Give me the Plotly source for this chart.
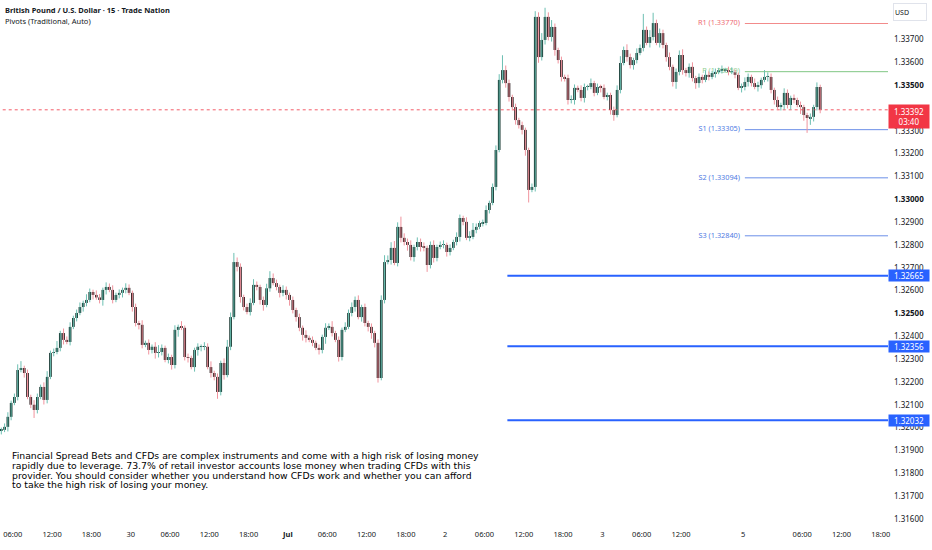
import plotly.graph_objects as go

# ---------------- data ----------------
first_open = 1.31985
close = [
    1.31990, 1.32003, 1.32047, 1.32108, 1.32134, 1.32252, 1.32261, 1.32239, 1.32134, 1.32100,
    1.32077, 1.32134, 1.32178, 1.32121, 1.32222, 1.32327, 1.32331, 1.32349, 1.32414, 1.32384,
    1.32375, 1.32441, 1.32480, 1.32502, 1.32528, 1.32546, 1.32559, 1.32594, 1.32581, 1.32570,
    1.32559, 1.32603, 1.32616, 1.32603, 1.32559, 1.32581, 1.32590, 1.32603, 1.32612, 1.32590,
    1.32528, 1.32458, 1.32450, 1.32362, 1.32371, 1.32340, 1.32354, 1.32327, 1.32331, 1.32349,
    1.32296, 1.32309, 1.32274, 1.32428, 1.32441, 1.32437, 1.32309, 1.32305, 1.32265, 1.32340,
    1.32354, 1.32354, 1.32354, 1.32265, 1.32239, 1.32222, 1.32156, 1.32283, 1.32230, 1.32354,
    1.32484, 1.32725, 1.32704, 1.32572, 1.32528, 1.32506, 1.32546, 1.32625, 1.32616, 1.32559,
    1.32537, 1.32610, 1.32655, 1.32633, 1.32616, 1.32590, 1.32603, 1.32581, 1.32559, 1.32515,
    1.32484, 1.32437, 1.32406, 1.32393, 1.32384, 1.32371, 1.32349, 1.32340, 1.32397, 1.32437,
    1.32441, 1.32414, 1.32384, 1.32309, 1.32428, 1.32441, 1.32502, 1.32528, 1.32559, 1.32484,
    1.32528, 1.32458, 1.32441, 1.32414, 1.32371, 1.32217,
    1.32559, 1.32725, 1.32734, 1.32787, 1.32721, 1.32879, 1.32831, 1.32813, 1.32800, 1.32747,
    1.32791, 1.32813, 1.32791, 1.32787, 1.32712, 1.32800, 1.32743, 1.32791, 1.32800, 1.32800,
    1.32769, 1.32787, 1.32813, 1.32835, 1.32918, 1.32901, 1.32831, 1.32835, 1.32866, 1.32879,
    1.32896, 1.32896, 1.32953, 1.32984, 1.33054, 1.33216, 1.33523, 1.33566, 1.33509, 1.33448,
    1.33404, 1.33347, 1.33325, 1.33304, 1.33216, 1.33041, 1.33054,
    1.33799, 1.33623, 1.33698, 1.33799, 1.33711, 1.33755, 1.33654, 1.33610, 1.33536, 1.33531,
    1.33435, 1.33435, 1.33488, 1.33479, 1.33444, 1.33492, 1.33492, 1.33509, 1.33466, 1.33492,
    1.33488, 1.33448, 1.33457, 1.33391, 1.33369, 1.33479, 1.33597, 1.33654, 1.33623, 1.33588,
    1.33610, 1.33641, 1.33663, 1.33742, 1.33685, 1.33711, 1.33772, 1.33685, 1.33728, 1.33676,
    1.33623, 1.33580, 1.33514, 1.33558, 1.33632, 1.33566, 1.33553, 1.33580, 1.33531, 1.33509,
    1.33536, 1.33523, 1.33545, 1.33536, 1.33553, 1.33558, 1.33566, 1.33566, 1.33566, 1.33558,
    1.33558, 1.33545, 1.33488, 1.33492, 1.33514, 1.33536, 1.33509, 1.33492, 1.33500, 1.33523,
    1.33536, 1.33536, 1.33479, 1.33435, 1.33404, 1.33413, 1.33466, 1.33413, 1.33444, 1.33435,
    1.33413, 1.33404, 1.33369, 1.33356, 1.33361, 1.33404, 1.33492, 1.33392,
]
# wick lengths beyond the body, in pips
wick_hi = [
    1.0, 1.5, 2.0, 1.0, 1.5, 2.5, 3.0, 1.0, 1.5, 1.0,
    2.0, 1.5, 1.0, 2.0, 2.5, 1.0, 1.5, 3.0, 1.0, 2.0,
    1.5, 2.0, 1.0, 1.5, 2.0, 1.0, 2.5, 1.5, 1.0, 2.0,
    1.5, 1.0, 2.0, 1.5, 2.0, 1.0, 1.5, 1.0, 2.0, 1.5,
    1.0, 1.5, 1.0, 2.0, 1.0, 1.5, 1.0, 2.0, 3.0, 1.5,
    1.0, 1.5, 1.0, 2.0, 1.0, 2.5, 1.0, 1.5, 1.0, 1.0,
    1.5, 1.0, 2.0, 1.5, 2.5, 1.0, 1.5, 1.0, 2.0, 3.0,
    2.0, 4.0, 2.0, 1.5, 1.0, 1.5, 2.0, 2.5, 1.5, 1.0,
    1.5, 2.0, 3.0, 2.0, 1.5, 1.0, 2.0, 1.5, 1.0, 1.5,
    1.0, 1.5, 1.0, 2.0, 1.0, 1.5, 1.0, 1.5, 1.0, 2.0,
    1.5, 2.5, 1.0, 1.5, 1.0, 2.0, 1.5, 2.0, 1.5, 2.0,
    1.0, 1.5, 1.0, 1.5, 1.0, 1.5, 2.0, 3.0, 2.0, 2.5,
    3.0, 2.0, 4.5, 2.0, 1.5, 2.0, 1.0, 2.0, 1.5, 2.0,
    1.0, 1.5, 2.0, 1.0, 1.5, 2.0, 1.0, 1.5, 1.0, 2.0,
    1.5, 1.0, 2.0, 2.5, 3.0, 1.5, 1.0, 1.5, 2.0, 1.0,
    1.5, 2.0, 2.5, 6.5, 2.0, 1.5, 1.0, 1.5, 1.0, 1.5,
    1.0, 1.0, 1.5, 2.5, 2.0, 3.0, 4.0, 2.0, 3.0, 1.5,
    1.0, 1.5, 1.0, 1.5, 2.0, 1.5, 1.0, 2.0, 1.5, 1.0,
    2.0, 1.0, 1.5, 1.0, 1.5, 1.0, 1.0, 1.5, 2.0, 3.0,
    1.5, 2.5, 1.5, 1.0, 2.0, 1.5, 7.0, 1.5, 3.0, 4.5,
    1.5, 2.0, 1.5, 1.0, 2.0, 1.0, 1.5, 2.0, 2.5, 1.0,
    1.5, 2.0, 1.0, 1.5, 1.0, 2.0, 1.5, 1.0, 1.5, 1.0,
    2.0, 1.0, 1.5, 2.0, 1.0, 1.0, 1.5, 2.0, 1.5, 1.0,
    2.0, 1.5, 1.0, 3.0, 2.0, 1.5, 1.0, 1.5, 1.0, 2.0,
    1.5, 1.0, 1.5, 1.0, 1.5, 1.0, 1.0, 1.5, 1.0, 2.0,
    1.0,
]
wick_lo = [
    1.5, 1.0, 2.0, 1.5, 1.0, 1.5, 1.0, 2.0, 1.0, 1.5,
    3.5, 1.5, 1.0, 2.0, 1.5, 1.0, 1.5, 1.0, 1.5, 2.0,
    1.0, 1.5, 1.0, 1.5, 1.0, 2.0, 1.5, 1.0, 2.0, 1.0,
    1.5, 2.5, 2.0, 1.0, 1.5, 1.0, 1.5, 2.0, 1.5, 1.0,
    2.0, 1.5, 2.0, 1.5, 1.0, 2.0, 1.5, 2.5, 2.0, 1.5,
    1.0, 1.5, 2.0, 1.5, 3.0, 1.0, 1.5, 2.0, 1.0, 2.0,
    2.5, 2.0, 1.5, 1.0, 2.0, 1.5, 3.0, 1.5, 2.0, 1.0,
    1.5, 1.0, 2.0, 2.5, 1.5, 1.0, 1.5, 1.0, 1.5, 2.0,
    2.5, 1.0, 1.5, 1.0, 1.5, 2.0, 1.5, 2.0, 2.5, 1.5,
    2.0, 1.5, 2.5, 2.0, 1.0, 1.5, 1.0, 2.0, 1.5, 3.0,
    1.0, 1.5, 1.0, 2.0, 1.5, 1.0, 1.0, 1.5, 2.0, 1.0,
    2.0, 1.5, 2.0, 2.5, 2.0, 2.0, 1.0, 1.5, 1.0, 2.0,
    1.0, 1.5, 2.0, 1.5, 2.5, 1.5, 2.0, 1.5, 2.0, 1.5,
    3.0, 1.5, 2.0, 1.5, 1.0, 1.5, 2.0, 1.5, 1.0, 1.5,
    2.0, 1.5, 1.0, 1.5, 1.0, 1.5, 1.0, 1.5, 1.0, 1.5,
    1.0, 1.5, 1.0, 1.5, 2.0, 2.0, 1.5, 2.0, 1.5, 2.0,
    2.5, 5.5, 1.0, 2.0, 2.5, 1.5, 2.0, 1.5, 2.0, 2.5,
    1.5, 2.0, 1.5, 2.0, 1.5, 2.0, 1.0, 1.5, 2.0, 1.5,
    1.0, 1.5, 1.0, 2.0, 1.0, 1.5, 2.0, 2.5, 1.0, 1.5,
    1.0, 2.0, 1.5, 2.0, 1.5, 1.0, 1.5, 1.0, 2.0, 1.5,
    1.0, 2.0, 1.5, 2.0, 1.5, 2.0, 3.0, 1.5, 2.0, 1.5,
    2.0, 1.5, 2.5, 2.0, 1.5, 1.0, 1.5, 1.0, 2.0, 1.0,
    1.5, 1.0, 1.5, 1.0, 1.5, 1.0, 2.0, 1.5, 2.0, 1.5,
    1.0, 2.0, 1.5, 1.0, 2.0, 1.5, 2.0, 1.0, 1.5, 2.0,
    1.5, 2.0, 1.5, 1.0, 3.0, 2.5, 6.5, 3.0, 2.0, 1.5,
    1.5,
]

time_tick_idx = [3.5, 15.5, 27.5, 39.5, 51.5, 63.5, 75.5, 87.5, 99.5, 111.5, 123.5,
                 135.5, 147.5, 159.5, 171.5, 183.5, 195.5, 207.5, 226.5, 244.5, 256.5, 268.5]
time_tick_text = ["06:00", "12:00", "18:00", "30", "06:00", "12:00", "18:00", "<b>Jul</b>",
                  "06:00", "12:00", "18:00", "2", "06:00", "12:00", "18:00", "3",
                  "06:00", "12:00", "5", "06:00", "12:00", "18:00"]

# 1.334 is hidden behind the last-price box in the reference
price_ticks = [1.316, 1.317, 1.318, 1.319, 1.320, 1.321, 1.322, 1.323, 1.324, 1.325, 1.326,
               1.327, 1.328, 1.329, 1.330, 1.331, 1.332, 1.333, 1.335, 1.336, 1.337]
bold_prices = [1.325, 1.330, 1.335]

pivot_names = ["R1", "P", "S1", "S2", "S3"]
pivot_values = [1.33770, 1.33559, 1.33305, 1.33094, 1.32840]
pivot_colors = ["#f28b8b", "#81c784", "#6b8fe8", "#6b8fe8", "#6b8fe8"]
pivot_text_colors = ["#ee6b74", "#8fcf92", "#4f7be3", "#4f7be3", "#4f7be3"]
pivot_start = 227

levels = [1.32665, 1.32356, 1.32032]
levels_start = 154.5

last_price = 1.33392
countdown = "03:40"

title_text = "British Pound / U.S. Dollar · 15 · Trade Nation"
indicator_text = "Pivots (Traditional, Auto)"
disclaimer_lines = [
    "Financial Spread Bets and CFDs are complex instruments and come with a high risk of losing money",
    "rapidly due to leverage. 73.7% of retail investor accounts lose money when trading CFDs with this",
    "provider. You should consider whether you understand how CFDs work and whether you can afford",
    "to take the high risk of losing your money.",
]

# ---------------- build ----------------
pip = 0.0001
n = len(close)
idx = list(range(n))
opens = [first_open] + close[:-1]
highs = [max(o, c) + h * pip for o, c, h in zip(opens, close, wick_hi)]
lows = [min(o, c) - l * pip for o, c, l in zip(opens, close, wick_lo)]
up = [c >= o for o, c in zip(opens, close)]

X0, X1 = -0.4, 270.7
Y0, Y1 = 1.31560, 1.33873

fig = go.Figure()

# pivot lines + labels (behind candles)
for name, val, lc, tc in zip(pivot_names, pivot_values, pivot_colors, pivot_text_colors):
    fig.add_trace(go.Scatter(x=[pivot_start, X1 + 5], y=[val, val], mode="lines",
                             line=dict(color=lc, width=1), hoverinfo="skip"))
    fig.add_trace(go.Scatter(x=[pivot_start - 1.5], y=[val], mode="text",
                             text=[f"{name} ({val:.5f})"], textposition="middle left",
                             textfont=dict(family="Noto Sans", size=7.3, color=tc),
                             hoverinfo="skip"))

# current price dotted line
fig.add_trace(go.Scatter(x=[X0 - 1, X1 + 5], y=[last_price, last_price], mode="lines",
                         line=dict(color="#f23645", width=1, dash="dot"), opacity=0.8,
                         hoverinfo="skip"))

# wicks
for flag, col in [(True, "#6cbfb2"), (False, "#f0939d")]:
    wx, wy = [], []
    for i in idx:
        if up[i] == flag:
            wx += [i, i, None]
            wy += [lows[i], highs[i], None]
    fig.add_trace(go.Scatter(x=wx, y=wy, mode="lines", line=dict(color=col, width=1),
                             hoverinfo="skip"))

# bodies
bases = [min(o, c) for o, c in zip(opens, close)]
heights = [max(abs(c - o), 0.00003) for o, c in zip(opens, close)]
body_colors = ["#0d2e27" if u else "#241316" for u in up]
fig.add_trace(go.Bar(x=idx, y=heights, base=bases, width=0.8,
                     marker=dict(color=body_colors, line=dict(width=0)), hoverinfo="skip"))

# horizontal blue levels
for lv in levels:
    fig.add_trace(go.Scatter(x=[levels_start, X1 + 5], y=[lv, lv], mode="lines",
                             line=dict(color="#2962ff", width=2), hoverinfo="skip"))

ann = []
# title
ann.append(dict(text=f"<b>{title_text}</b>", xref="paper", yref="paper", x=0, y=1,
                xanchor="left", yanchor="top", xshift=3, yshift=-3, showarrow=False,
                font=dict(family="Noto Sans", size=7.5, color="#131722")))
ann.append(dict(text=indicator_text, xref="paper", yref="paper", x=0, y=1,
                xanchor="left", yanchor="top", xshift=3, yshift=-14, showarrow=False,
                font=dict(family="Noto Sans", size=7.5, color="#131722")))
# disclaimer
for k, line in enumerate(disclaimer_lines):
    ann.append(dict(text=line, xref="paper", yref="paper", x=0, y=1,
                    xanchor="left", yanchor="middle", xshift=10, yshift=-(455.5 + 9.8 * k),
                    showarrow=False, align="left",
                    font=dict(family="DejaVu Sans", size=9.3, color="#000000")))
# USD box
ann.append(dict(text="USD", xref="paper", yref="paper", x=1, y=1, xanchor="left",
                yanchor="top", xshift=5, yshift=-3, showarrow=False, width=30, height=14,
                bordercolor="#e0e3eb", borderwidth=1, bgcolor="white", align="left",
                font=dict(family="Noto Sans", size=7, color="#131722")))
# level boxes
for lv in levels:
    ann.append(dict(text=f"{lv:.5f}", xref="paper", yref="y", x=1, y=lv, xanchor="left",
                    yanchor="middle", showarrow=False, width=40, height=11, borderpad=0,
                    bgcolor="#2962ff", font=dict(family="Noto Sans", size=8, color="white")))
# last price box
ann.append(dict(text=f"{last_price:.5f}<br>{countdown}", xref="paper", yref="y", x=1,
                y=last_price, xanchor="left", yanchor="top", yshift=6, showarrow=False,
                width=40, height=23, borderpad=0, bgcolor="#f23645",
                font=dict(family="Noto Sans", size=8, color="white")))

price_text = [f"<b>{p:.5f}</b>" if any(abs(p - b) < 1e-9 for b in bold_prices) else f"{p:.5f}"
              for p in price_ticks]

fig.update_layout(
    width=932, height=550,
    margin=dict(l=0, r=44, t=0, b=22),
    paper_bgcolor="white", plot_bgcolor="white",
    showlegend=False,
    annotations=ann,
    xaxis=dict(range=[X0, X1], tickvals=time_tick_idx, ticktext=time_tick_text,
               showgrid=False, zeroline=False, showline=False, ticks="",
               tickfont=dict(family="Noto Sans", size=7.5, color="#131722"),
               fixedrange=True),
    yaxis=dict(range=[Y0, Y1], side="right", tickvals=price_ticks, ticktext=price_text,
               showgrid=False, zeroline=False, showline=False, ticks="",
               ticklabelstandoff=5,
               tickfont=dict(family="Noto Sans", size=8, color="#131722"),
               fixedrange=True),
)

fig.write_html(
    "out.html",
    config={"displayModeBar": False},
    post_script=(
        "document.documentElement.style.margin='0';"
        "document.body.style.margin='0';document.body.style.padding='0';"
        "document.documentElement.style.overflow='hidden';"
        "document.body.style.overflow='hidden';"
    ),
)
